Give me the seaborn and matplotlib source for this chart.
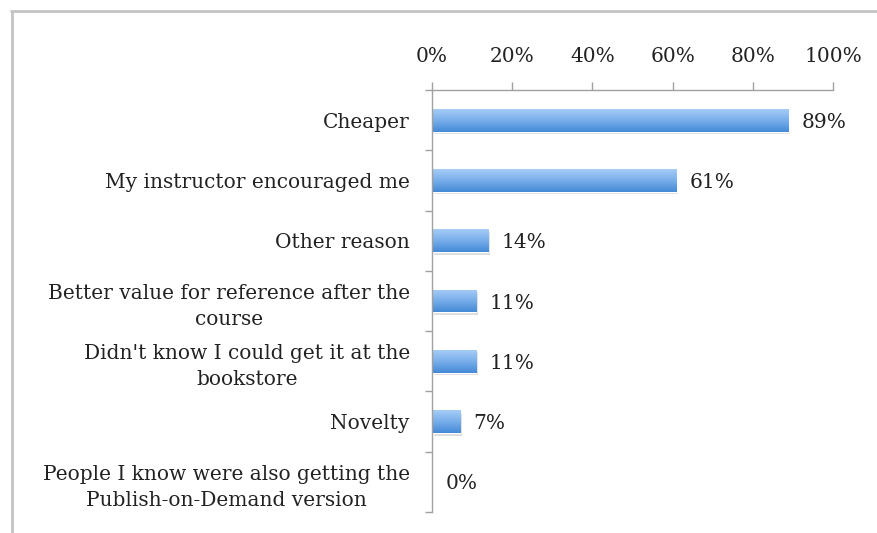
import numpy as np
import pandas as pd
import seaborn as sns
import matplotlib.pyplot as plt
import matplotlib.transforms as mtransforms
from matplotlib.colors import LinearSegmentedColormap
from matplotlib.patches import Rectangle
from matplotlib.lines import Line2D

categories = [
    "Cheaper",
    "My instructor encouraged me",
    "Other reason",
    "Better value for reference after the\ncourse",
    "Didn't know I could get it at the\nbookstore",
    "Novelty",
    "People I know were also getting the\nPublish-on-Demand version",
]
values = [89, 61, 14, 11, 11, 7, 0]
x_ticks = [0, 20, 40, 60, 80, 100]
x_tick_labels = ["0%", "20%", "40%", "60%", "80%", "100%"]
value_labels = [f"{v}%" for v in values]

df = pd.DataFrame({"reason": categories, "share": values})

sns.set_theme(style="white")
plt.rcParams['font.family'] = ['DejaVu Serif']
TEXT = "#222222"
FS = 14.5

fig = plt.figure(figsize=(8.77, 5.33), dpi=100)
ax = fig.add_axes([432 / 877, 21 / 533, 401 / 877, 422 / 533])

sns.barplot(data=df, x="share", y="reason", orient="h", color="#6fa6e4",
            width=0.38, ax=ax, saturation=1)

ax.set_xlim(0, 100)
ax.set_ylim(6.5, -0.5)

# gradient + shadow on bars
cmap = LinearSegmentedColormap.from_list("g", ["#a6ccf6", "#78aeea", "#4589d6"])
grad = np.linspace(0, 1, 64).reshape(-1, 1)
shadow_tr = mtransforms.offset_copy(ax.transData, fig=fig, x=1.5, y=-2.5, units="dots")
for p in list(ax.patches):
    x0, y0 = p.get_x(), p.get_y()
    w, h = p.get_width(), p.get_height()
    if w <= 0:
        p.set_visible(False)
        continue
    sh = Rectangle((x0, y0), w, h, transform=shadow_tr, facecolor="#9a9a9a",
                   alpha=0.35, edgecolor="none", zorder=p.get_zorder() - 0.1)
    ax.add_patch(sh)
    im = ax.imshow(grad, cmap=cmap, extent=[x0, x0 + w, y0 + h, y0],
                   aspect="auto", zorder=p.get_zorder() + 0.1, interpolation="bilinear")
    im.set_clip_path(p)
ax.set_xlim(0, 100)
ax.set_ylim(6.5, -0.5)

# value labels
for container in ax.containers:
    anns = ax.bar_label(container, labels=value_labels, padding=9.5, fontsize=FS, color=TEXT)
    for a in anns:
        a.xyann = (9.5, -1.5)

# axes styling
ax.xaxis.tick_top()
ax.set_xticks(x_ticks)
ax.set_xticklabels(x_tick_labels)
ax.set_xlabel("")
ax.set_ylabel("")
ax.tick_params(axis="x", which="major", direction="out", length=6, width=1,
               color="#a0a0a0", pad=11.5, labelsize=FS, labelcolor=TEXT,
               top=True, bottom=False)
ax.set_yticks(range(len(categories)))
ax.set_yticklabels(categories, multialignment="center", linespacing=1.45)
ax.set_yticks(np.arange(-0.5, len(categories), 1.0), minor=True)
ax.tick_params(axis="y", which="major", length=0, pad=16, labelsize=FS, labelcolor=TEXT)
ax.tick_params(axis="y", which="minor", direction="out", length=5, width=1,
               color="#a0a0a0", left=True)
for side in ["right", "bottom"]:
    ax.spines[side].set_visible(False)
for side in ["top", "left"]:
    ax.spines[side].set_color("#a0a0a0")
    ax.spines[side].set_linewidth(1)
ax.grid(False)

# outer frame (top and left edges)
fig.add_artist(Line2D([11 / 877, 1], [1 - 10.5 / 533, 1 - 10.5 / 533],
                      transform=fig.transFigure, color="#c4c4c4", lw=2))
fig.add_artist(Line2D([11.5 / 877, 11.5 / 877], [0, 1 - 10.5 / 533],
                      transform=fig.transFigure, color="#c4c4c4", lw=2))

fig.savefig("out.png", dpi=100)
